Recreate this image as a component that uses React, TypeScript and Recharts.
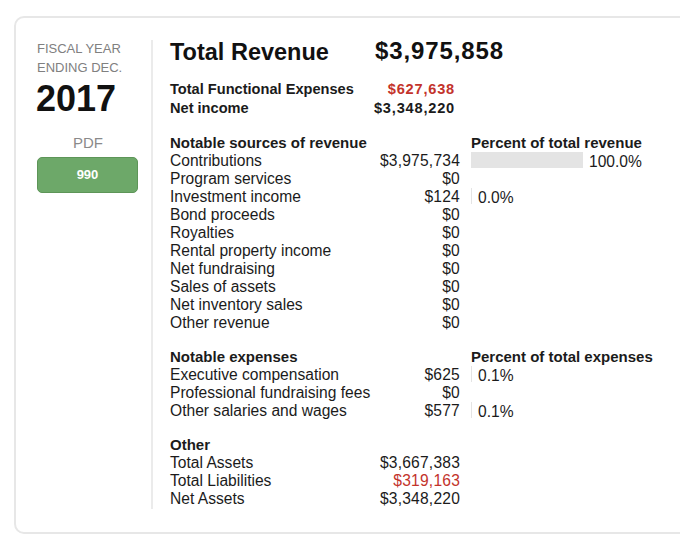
import { BarChart, Bar, XAxis, YAxis, LabelList } from "recharts";

const fiscalLabel = ["FISCAL YEAR", "ENDING DEC."];
const fiscalYear = "2017";
const formLabel = "990";

const totalRevenue = 3975858;
const totalExpenses = 627638;
const netIncome = 3348220;

const revenueNames = [
  "Contributions",
  "Program services",
  "Investment income",
  "Bond proceeds",
  "Royalties",
  "Rental property income",
  "Net fundraising",
  "Sales of assets",
  "Net inventory sales",
  "Other revenue",
];
const revenueValues = [3975734, 0, 124, 0, 0, 0, 0, 0, 0, 0];

const expenseNames = ["Executive compensation", "Professional fundraising fees", "Other salaries and wages"];
const expenseValues = [625, 0, 577];

const otherNames = ["Total Assets", "Total Liabilities", "Net Assets"];
const otherValues = [3667383, 319163, 3348220];

const RED = "#c3332b";
const TEXT = "#1b1b1b";
const BODY_FONT = "'Liberation Sans', Arial, sans-serif";
const ROW = 18;

const money = (v: number) => "$" + v.toLocaleString("en-US");

// percent rows for the bar charts; zero amounts get no bar and no label
const revenueData = revenueNames.map((name, i) => ({
  name,
  pct: revenueValues[i] > 0 ? (revenueValues[i] / totalRevenue) * 100 : null,
}));
const expenseData = expenseNames.map((name, i) => ({
  name,
  pct: expenseValues[i] > 0 ? (expenseValues[i] / totalExpenses) * 100 : null,
}));

function PctLabel(props: any) {
  const { x, y, width, height, value } = props;
  if (value == null) return null;
  return (
    <text
      x={x + Math.max(width, 1) + 6}
      y={y + height / 2 + 1}
      dominantBaseline="central"
      fill={TEXT}
      fontSize={15.6}
      fontFamily={BODY_FONT}
    >
      {value.toFixed(1) + "%"}
    </text>
  );
}

function PctBars({ data, top }: { data: { name: string; pct: number | null }[]; top: number }) {
  return (
    <div style={{ position: "absolute", left: 471, top }}>
      <BarChart
        width={200}
        height={data.length * ROW}
        data={data}
        layout="vertical"
        margin={{ top: 0, right: 88, bottom: 0, left: 0 }}
        barCategoryGap={1}
      >
        <XAxis type="number" domain={[0, 100]} hide />
        <YAxis type="category" dataKey="name" hide />
        <Bar
          dataKey="pct"
          fill="#e4e4e4"
          isAnimationActive={false}
          minPointSize={(v: any) => (v != null && v > 0 ? 1 : 0)}
        >
          <LabelList dataKey="pct" content={PctLabel} />
        </Bar>
      </BarChart>
    </div>
  );
}

function Rows({ names, values, top, colors }: { names: string[]; values: number[]; top: number; colors?: string[] }) {
  return (
    <>
      {names.map((n, i) => (
        <div key={n} style={{ position: "absolute", left: 170, top: top + 1 + i * ROW, height: ROW, lineHeight: ROW + "px", width: 290 }}>
          <span>{n}</span>
          <span style={{ position: "absolute", right: 0, letterSpacing: 0.2, color: colors ? colors[i] : TEXT }}>{money(values[i])}</span>
        </div>
      ))}
    </>
  );
}

function Header({ text, top, left = 170 }: { text: string; top: number; left?: number }) {
  return (
    <div style={{ position: "absolute", left, top: top + 1, lineHeight: ROW + "px", fontWeight: 700, fontSize: 15 }}>{text}</div>
  );
}

export default function App() {
  return (
    <div
      style={{
        position: "absolute",
        left: 0,
        top: 0,
        width: 680,
        height: 555,
        overflow: "hidden",
        background: "#fff",
        fontFamily: BODY_FONT,
        fontSize: 15.6,
        color: TEXT,
      }}
    >
      <div
        style={{
          position: "absolute",
          left: 14,
          top: 16,
          width: 720,
          height: 514,
          border: "2px solid #e7e7e7",
          borderRadius: 10,
        }}
      />
      {/* left column */}
      {fiscalLabel.map((t, i) => (
        <div key={t} style={{ position: "absolute", left: 37, top: 39 + i * 19, fontSize: 13, lineHeight: "19px", color: "#808080" }}>
          {t}
        </div>
      ))}
      <div style={{ position: "absolute", left: 36, top: 78, fontSize: 36, fontWeight: 700, lineHeight: "42px", color: "#111" }}>
        {fiscalYear}
      </div>
      <div style={{ position: "absolute", left: 37, width: 102, textAlign: "center", top: 133, fontSize: 15, lineHeight: "20px", color: "#8a8a8a" }}>
        PDF
      </div>
      <div
        style={{
          position: "absolute",
          left: 37,
          top: 157,
          width: 99,
          height: 34,
          background: "#6da869",
          border: "1px solid #5d9558",
          borderRadius: 5,
          color: "#fff",
          fontWeight: 700,
          fontSize: 13,
          lineHeight: "34px",
          textAlign: "center",
        }}
      >
        {formLabel}
      </div>
      <div style={{ position: "absolute", left: 151, top: 40, width: 2, height: 469, background: "#ebebeb" }} />

      {/* summary */}
      <div style={{ position: "absolute", left: 170, top: 38, fontSize: 23.5, fontWeight: 700, lineHeight: "28px", color: "#111" }}>
        Total Revenue
      </div>
      <div style={{ position: "absolute", left: 375, top: 37, fontSize: 24, fontWeight: 700, lineHeight: "28px", letterSpacing: 0.9, color: "#111" }}>
        {money(totalRevenue)}
      </div>
      <div style={{ position: "absolute", left: 170, top: 79, width: 285, lineHeight: "20px", fontSize: 14.6, fontWeight: 700 }}>
        Total Functional Expenses
        <span style={{ position: "absolute", right: 0, letterSpacing: 0.8, color: RED }}>{money(totalExpenses)}</span>
      </div>
      <div style={{ position: "absolute", left: 170, top: 98, width: 285, lineHeight: "20px", fontSize: 14.6, fontWeight: 700 }}>
        Net income
        <span style={{ position: "absolute", right: 0, letterSpacing: 0.8 }}>{money(netIncome)}</span>
      </div>

      {/* revenue */}
      <Header text="Notable sources of revenue" top={133} />
      <Header text="Percent of total revenue" top={133} left={471} />
      <Rows names={revenueNames} values={revenueValues} top={151} />
      <PctBars data={revenueData} top={151} />

      {/* expenses */}
      <Header text="Notable expenses" top={347} />
      <Header text="Percent of total expenses" top={347} left={471} />
      <Rows names={expenseNames} values={expenseValues} top={365} />
      <PctBars data={expenseData} top={365} />

      {/* other */}
      <Header text="Other" top={435} />
      <Rows names={otherNames} values={otherValues} top={453} colors={[TEXT, RED, TEXT]} />
    </div>
  );
}
